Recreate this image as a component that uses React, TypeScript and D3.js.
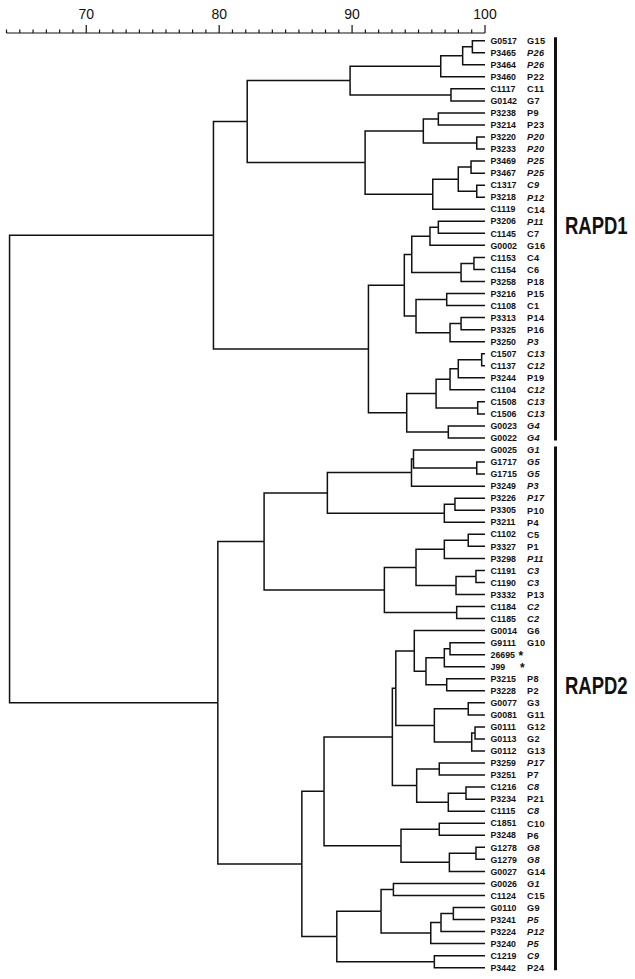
import React from "react";
import * as d3 from "d3";

// Leaf strain IDs in drawing order (top to bottom)
const leafIds = [
  "G0517","P3465","P3464","P3460","C1117","G0142","P3238","P3214","P3220","P3233",
  "P3469","P3467","C1317","P3218","C1119","P3206","C1145","G0002","C1153","C1154",
  "P3258","P3216","C1108","P3313","P3325","P3250","C1507","C1137","P3244","C1104",
  "C1508","C1506","G0023","G0022",
  "G0025","G1717","G1715","P3249","P3226","P3305","P3211","C1102","P3327","P3298",
  "C1191","C1190","P3332","C1184","C1185","G0014","G9111","26695","J99","P3215",
  "P3228","G0077","G0081","G0111","G0113","G0112","P3259","P3251","C1216","P3234",
  "C1115","C1851","P3248","G1278","G1279","G0027","G0026","C1124","G0110","P3241",
  "P3224","P3240","C1219","P3442",
];

// Group (patient / source) labels in the second column
const groupLabels = [
  "G15","P26","P26","P22","C11","G7","P9","P23","P20","P20",
  "P25","P25","C9","P12","C14","P11","C7","G16","C4","C6",
  "P18","P15","C1","P14","P16","P3","C13","C12","P19","C12",
  "C13","C13","G4","G4",
  "G1","G5","G5","P3","P17","P10","P4","C5","P1","P11",
  "C3","C3","P13","C2","C2","G6","G10","*","*","P8",
  "P2","G3","G11","G12","G2","G13","P17","P7","C8","P21",
  "C8","C10","P6","G8","G8","G14","G1","C15","G9","P5",
  "P12","P5","C9","P24",
];

const italicGroups = [
  "P26","P20","P25","C9","P12","P11","P3","C13","C12","G4",
  "G1","G5","P17","C3","C2","C8","G8","P5",
];

// Agglomeration steps: [childA, childB, similarity %]; step i creates node "n" + i
const merges: [string, string, number][] = [
  ["G0517","P3465",99.05], // n0
  ["n0","P3464",98.32],    // n1
  ["n1","P3460",96.67],    // n2
  ["C1117","G0142",97.44], // n3
  ["n2","n3",89.85],       // n4
  ["P3238","P3214",96.49], // n5
  ["P3220","P3233",99.38], // n6
  ["n5","n6",95.36],       // n7
  ["P3469","P3467",98.95], // n8
  ["C1317","P3218",99.38], // n9
  ["n8","n9",97.99],       // n10
  ["n10","C1119",96.07],   // n11
  ["n7","n11",90.98],      // n12
  ["n4","n12",82.11],      // n13
  ["P3206","C1145",96.49], // n14
  ["n14","G0002",95.86],   // n15
  ["C1153","C1154",99.17], // n16
  ["n16","P3258",98.2],    // n17
  ["n15","n17",94.49],     // n18
  ["P3216","C1108",97.12], // n19
  ["P3313","P3325",98.2],  // n20
  ["n20","P3250",97.37],   // n21
  ["n19","n21",94.81],     // n22
  ["n18","n22",93.93],     // n23
  ["C1507","C1137",99.75], // n24
  ["n24","P3244",97.99],   // n25
  ["n25","C1104",97.37],   // n26
  ["C1508","C1506",99.45], // n27
  ["n26","n27",96.32],     // n28
  ["G0023","G0022",97.24], // n29
  ["n28","n29",94.11],     // n30
  ["n23","n30",91.23],     // n31
  ["n13","n31",79.57],     // n32  RAPD1
  ["G1717","G1715",99.38], // n33
  ["G0025","n33",94.62],   // n34
  ["n34","P3249",94.47],   // n35
  ["P3226","P3305",97.74], // n36
  ["n36","P3211",96.94],   // n37
  ["n35","n37",88.14],     // n38
  ["C1102","P3327",98.74], // n39
  ["n39","P3298",96.94],   // n40
  ["C1191","C1190",99.32], // n41
  ["n41","P3332",97.82],   // n42
  ["n40","n42",94.81],     // n43
  ["C1184","C1185",97.87], // n44
  ["n43","n44",92.43],     // n45
  ["n38","n45",83.38],     // n46
  ["G9111","26695",97.37], // n47
  ["n47","J99",96.94],     // n48
  ["P3215","P3228",97.12], // n49
  ["n48","n49",95.56],     // n50
  ["G0014","n50",94.68],   // n51
  ["G0077","G0081",98.74], // n52
  ["G0111","G0113",99.25], // n53
  ["n53","G0112",99.0],    // n54
  ["n52","n54",96.19],     // n55
  ["n51","n55",93.29],     // n56
  ["P3259","P3251",96.56], // n57
  ["C1216","P3234",98.57], // n58
  ["n58","C1115",97.24],   // n59
  ["n57","n59",94.86],     // n60
  ["n56","n60",93.03],     // n61
  ["C1851","P3248",96.56], // n62
  ["G1278","G1279",99.32], // n63
  ["n63","G0027",97.32],   // n64
  ["n62","n64",93.68],     // n65
  ["n61","n65",87.89],     // n66
  ["G0026","C1124",93.11], // n67
  ["G0110","P3241",97.62], // n68
  ["n68","P3224",96.69],   // n69
  ["n69","P3240",95.92],   // n70
  ["n67","n70",92.18],     // n71
  ["C1219","P3442",96.19], // n72
  ["n71","n72",88.85],     // n73
  ["n66","n73",86.22],     // n74
  ["n46","n74",79.9],      // n75  RAPD2
  ["n32","n75",64.23],     // n76  root
];

const axisDomain = [64, 100];
const majorTicks = [70, 80, 90, 100];
const clusterNames = ["RAPD1", "RAPD2"];
const clusterSpans: [string, string][] = [["G0517", "G0022"], ["G0025", "P3442"]];

type TNode = { name: string; sim: number; children?: TNode[] };

function buildTree(): TNode {
  const map: Record<string, TNode> = {};
  leafIds.forEach((id) => (map[id] = { name: id, sim: 100 }));
  merges.forEach(([a, b, s], i) => {
    map["n" + i] = { name: "n" + i, sim: s, children: [map[a], map[b]] };
  });
  return map["n" + (merges.length - 1)];
}

export default function App() {
  const W = 635, H = 979;
  const x = d3.scaleLinear().domain(axisDomain).range([6.5, 485]);
  const y = d3.scaleLinear().domain([0, leafIds.length - 1]).range([40.7, 967.7]);

  const root = d3.hierarchy<TNode>(buildTree());
  const pos = new Map<any, { px: number; py: number }>();
  const leafIndex: Record<string, number> = {};
  leafIds.forEach((id, i) => (leafIndex[id] = i));
  root.eachAfter((n: any) => {
    const px = x(n.data.sim);
    let py: number;
    if (!n.children) py = y(leafIndex[n.data.name]);
    else py = d3.mean(n.children, (c: any) => pos.get(c)!.py) as number;
    pos.set(n, { px, py });
  });

  const links = root.links().map((l: any, i: number) => {
    const s = pos.get(l.source)!;
    const t = pos.get(l.target)!;
    const p = d3.path();
    p.moveTo(s.px, s.py);
    p.lineTo(s.px, t.py);
    p.lineTo(t.px, t.py);
    return <path key={i} d={p.toString()} fill="none" stroke="#111" strokeWidth={1.5} />;
  });

  const minorTicks = d3.range(axisDomain[0], axisDomain[1] + 1);
  const axisY = 33;
  const font = "'Liberation Sans', Arial, Helvetica, sans-serif";

  return (
    <svg width={W} height={H} style={{ position: "absolute", left: 0, top: 0, background: "#fff" }}>
      <rect width={W} height={H} fill="#fff" />
      {/* axis */}
      <g stroke="#111" strokeWidth={1.2}>
        <line x1={x(axisDomain[0])} x2={x(axisDomain[1])} y1={axisY} y2={axisY} />
        {minorTicks.map((t) => (
          <line key={t} x1={x(t)} x2={x(t)} y1={axisY} y2={axisY - (majorTicks.includes(t) ? 8 : 3.5)} />
        ))}
      </g>
      {majorTicks.map((t) => (
        <text key={t} x={x(t)} y={19} textAnchor="middle" fontFamily={font} fontSize={14} fill="#111">
          {t}
        </text>
      ))}
      {/* tree */}
      <g>{links}</g>
      {/* leaf labels */}
      {leafIds.map((id, i) => {
        const g = groupLabels[i];
        const star = g === "*";
        return (
          <g key={id} fontFamily={font} fontWeight="bold" fill="#111">
            <text x={490.5} y={y(i) + 3.2} fontSize={8.8}>{id}</text>
            <text
              x={star ? 518.5 + (id === "J99" ? 1.5 : 0) : 527}
              y={y(i) + (star ? 5 : 3.3)}
              fontSize={star ? 12 : 9.2}
              fontStyle={italicGroups.includes(g) ? "italic" : "normal"}
              letterSpacing={star ? 0 : 0.4}
            >
              {g}
            </text>
          </g>
        );
      })}
      {/* cluster bars */}
      {clusterSpans.map(([a, b], i) => (
        <line key={i} x1={555.5} x2={555.5} y1={y(leafIndex[a]) - 3.5} y2={y(leafIndex[b]) + 2.5}
          stroke="#111" strokeWidth={3} />
      ))}
      {clusterNames.map((c, i) => (
        <g key={c} transform={`translate(565, ${i === 0 ? 234 : 694}) scale(0.77, 1)`}>
          <text x={0} y={0} fontFamily={font} fontSize={24} fontWeight="bold" fill="#111">
            {c}
          </text>
        </g>
      ))}
    </svg>
  );
}
